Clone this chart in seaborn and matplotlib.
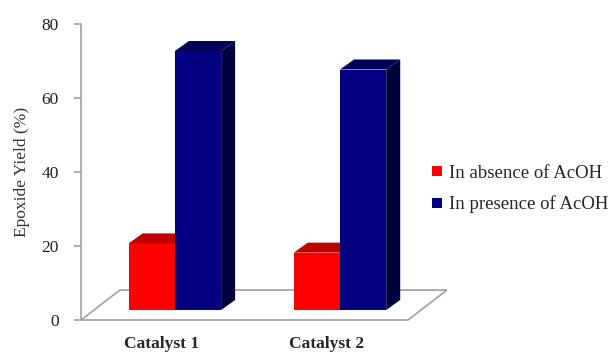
import numpy as np
import pandas as pd
import matplotlib

matplotlib.use("Agg")
import matplotlib.pyplot as plt
import seaborn as sns
from matplotlib.patches import Polygon
from matplotlib.transforms import ScaledTranslation

catalysts = ["Catalyst 1", "Catalyst 2"]
conditions = ["In absence of AcOH", "In presence of AcOH"]
absence = [18, 15.5]
presence = [70, 65]

front_colors = ["#ff0000", "#000080"]
top_colors = ["#c00000", "#000058"]
side_colors = ["#a00000", "#00003c"]

df = pd.DataFrame({
    "catalyst": catalysts * 2,
    "condition": [conditions[0]] * 2 + [conditions[1]] * 2,
    "yield": absence + presence,
})

sns.set_theme(style="white")
plt.rcParams["font.family"] = ["Liberation Serif", "DejaVu Serif"]

fig = plt.figure(figsize=(6.14, 3.56), dpi=100)
ax = fig.add_axes([81 / 614, 36 / 356, 367 / 614, 296 / 356])

sns.barplot(data=df, x="catalyst", y="yield", hue="condition",
            palette=front_colors, width=0.56, saturation=1,
            linewidth=0, ax=ax)
ax.set_xlim(-0.49, 1.733)
ax.set_ylim(0, 80)

# fake 3D: shift bars back into the floor, add top and side faces
shift = ScaledTranslation(13 / 100, 10 / 100, fig.dpi_scale_trans)
tr = ax.transData + shift
p0 = ax.transData.transform((0, 0))
p1 = ax.transData.transform((1, 1))
ddx = 14 / (p1[0] - p0[0])
ddy = 10 / (p1[1] - p0[1])

for i, cont in enumerate(ax.containers):
    for bar in cont:
        bar.set_transform(tr)
        bar.set_zorder(2 + i)
        x, w, h = bar.get_x(), bar.get_width(), bar.get_height()
        side = Polygon([(x + w, 0), (x + w + ddx, ddy), (x + w + ddx, h + ddy), (x + w, h)],
                       closed=True, facecolor=side_colors[i], edgecolor="none",
                       transform=tr, zorder=2 + i)
        top = Polygon([(x, h), (x + ddx, h + ddy), (x + w + ddx, h + ddy), (x + w, h)],
                      closed=True, facecolor=top_colors[i], edgecolor="none",
                      transform=tr, zorder=2 + i)
        ax.add_patch(side)
        ax.add_patch(top)

# floor
floor = Polygon([(0, 0), (0.891, 0), (0.997, 0.101), (0.106, 0.101)], closed=True,
                facecolor="white", edgecolor="#a0a0a0", linewidth=1.2,
                transform=ax.transAxes, zorder=1, clip_on=False)
ax.add_patch(floor)

for s in ["top", "right", "bottom"]:
    ax.spines[s].set_visible(False)
ax.spines["left"].set_color("#a0a0a0")
ax.spines["left"].set_linewidth(1.2)
ax.set_yticks([0, 20, 40, 60, 80])
ax.tick_params(axis="y", left=True, length=5, width=1.2, color="#a0a0a0",
               pad=11, labelsize=12.5, labelcolor="#222222")
ax.tick_params(axis="x", bottom=False, labelsize=12.5)
ax.set_xticks(range(len(catalysts)))
ax.set_xticklabels(catalysts, fontweight="bold", va="top")
for lbl in ax.get_xticklabels():
    lbl.set_transform(lbl.get_transform() + ScaledTranslation(0, -3 / 100, fig.dpi_scale_trans))
ax.set_xlabel("")
ax.set_ylabel("Epoxide Yield (%)", fontsize=12.5, color="#333333", labelpad=8)

leg = ax.legend(loc="center left", bbox_to_anchor=(432 / 614, 1 - 189 / 356),
                bbox_transform=fig.transFigure, frameon=False, fontsize=13.5,
                handlelength=0.55, handleheight=0.45, handletextpad=0.35,
                labelspacing=0.75, borderpad=0, borderaxespad=0)

fig.savefig("out.png", dpi=100)
